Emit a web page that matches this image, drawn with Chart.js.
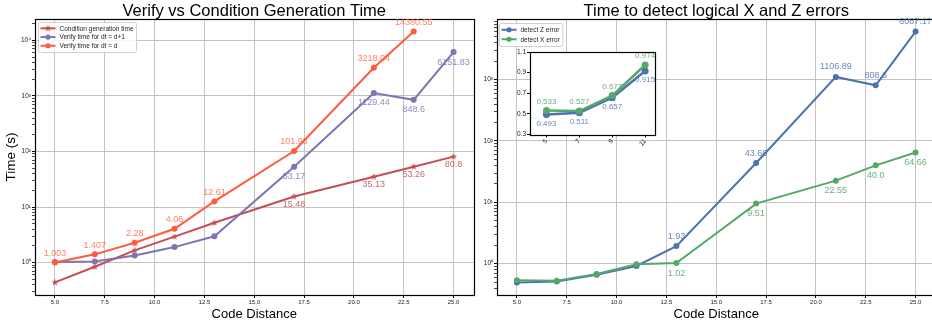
<!DOCTYPE html>
<html>
<head>
  <meta charset="utf-8" />
  <title>Verify vs Condition Generation Time</title>
  <script src="https://cdn.jsdelivr.net/npm/chart.js@4"></script>
  <style>
    html, body {
      margin: 0;
      padding: 0;
      width: 932px;
      height: 325px;
      overflow: hidden;
      background: #ffffff;
    }
    .box { position: absolute; }
    #left-box { left: 0; top: 0; width: 480px; height: 325px; }
    #right-box { left: 470px; top: 0; width: 480px; height: 325px; }
    #inset-box { left: 505px; top: 45px; width: 160px; height: 115px; }
  </style>
</head>
<body>
  <div class="box" id="left-box"><canvas id="left-chart"></canvas></div>
  <div class="box" id="right-box"><canvas id="right-chart"></canvas></div>
  <div class="box" id="inset-box"><canvas id="inset-chart"></canvas></div>
  <script>
    // ---- data ----
    const distances = [5, 7, 9, 11, 13, 17, 21, 23, 25];
    const conditionTime = [0.44, 0.84, 1.66, 2.93, 5.2, 15.48, 35.13, 53.26, 80.8];
    const verifyDtPlus1 = [1.02, 1.05, 1.34, 1.9, 2.97, 53.17, 1129.44, 848.6, 6151.83];
    const verifyDtD = [1.003, 1.407, 2.28, 4.06, 12.61, 101.98, 3218.04, 14380.55]; // no d=25 run
    const detectZ = [0.493, 0.511, 0.657, 0.915, 1.93, 43.66, 1106.89, 808.6, 6087.17];
    const detectX = [0.533, 0.527, 0.677, 0.974, 1.02, 9.51, 22.55, 40.0, 64.66];
    const insetDistances = [5, 7, 9, 11];

    const xTicks = [5, 7.5, 10, 12.5, 15, 17.5, 20, 22.5, 25];
    const insetYTicks = [0.3, 0.5, 0.7, 0.9, 1.1];
    const supDigits = ['⁰', '¹', '²', '³', '⁴', '⁵'];

    const FONT = '"Liberation Sans", Arial, sans-serif';
    const GRID = '#c4c4c4';

    function pts(xs, ys) {
      return ys.map((y, i) => ({ x: xs[i], y: y }));
    }
    function fmt(v) {
      return Number.isInteger(v) ? v.toFixed(1) : String(v);
    }
    function range(a, b) {
      const out = [];
      for (let i = a; i <= b; i++) out.push(i);
      return out;
    }

    // filled 5 point star, used as marker for condition generation time
    function starMarker(color, r) {
      const c = document.createElement('canvas');
      c.width = c.height = Math.ceil(r * 2 + 2);
      const g = c.getContext('2d');
      const cx = c.width / 2, cy = c.height / 2;
      g.beginPath();
      for (let i = 0; i < 10; i++) {
        const rad = i % 2 === 0 ? r : r * 0.42;
        const a = -Math.PI / 2 + i * Math.PI / 5;
        g.lineTo(cx + rad * Math.cos(a), cy + rad * Math.sin(a));
      }
      g.closePath();
      g.fillStyle = color;
      g.fill();
      return c;
    }

    // log minor ticks between decades (2..9 x 10^n)
    function logTicks(min, max) {
      const out = [];
      for (let e = Math.floor(Math.log10(min)); e <= Math.ceil(Math.log10(max)); e++) {
        for (let m = 1; m < 10; m++) {
          const v = m * Math.pow(10, e);
          if (v >= min && v <= max) out.push({ value: v, major: m === 1 });
        }
      }
      return out;
    }

    // value labels next to the points
    const pointLabels = {
      id: 'pointLabels',
      afterDatasetsDraw(chart) {
        const ctx = chart.ctx;
        chart.data.datasets.forEach((ds, i) => {
          if (!ds.labelIdx) return;
          const meta = chart.getDatasetMeta(i);
          ctx.save();
          ctx.font = (ds.labelSize || 9) + 'px ' + FONT;
          ctx.fillStyle = ds.labelColor;
          ctx.textAlign = 'center';
          ctx.textBaseline = 'middle';
          ds.labelIdx.forEach(j => {
            const p = meta.data[j];
            ctx.fillText(fmt(ds.data[j].y), p.x, p.y + ds.labelDy);
          });
          ctx.restore();
        });
      }
    };

    // black box round the plot area, plus the title
    const frame = {
      id: 'frame',
      beforeDraw(chart, args, opts) {
        if (!opts.fill) return;
        const a = chart.chartArea;
        chart.ctx.save();
        chart.ctx.fillStyle = '#ffffff';
        chart.ctx.fillRect(a.left, a.top, a.right - a.left, a.bottom - a.top);
        chart.ctx.restore();
      },
      afterDatasetsDraw(chart, args, opts) {
        const a = chart.chartArea;
        const ctx = chart.ctx;
        ctx.save();
        ctx.strokeStyle = '#000000';
        ctx.lineWidth = 1.2;
        ctx.strokeRect(Math.round(a.left) + 0.5, Math.round(a.top) + 0.5,
          Math.round(a.right - a.left), Math.round(a.bottom - a.top));
        if (opts.title) {
          ctx.fillStyle = '#000000';
          ctx.font = '16.5px ' + FONT;
          ctx.textAlign = 'center';
          ctx.textBaseline = 'alphabetic';
          ctx.fillText(opts.title, (a.left + a.right) / 2, 16);
        }
        ctx.restore();
      }
    };

    // legend box inside the plot area
    const boxLegend = {
      id: 'boxLegend',
      afterDraw(chart, args, opts) {
        if (!opts.show) return;
        const ctx = chart.ctx;
        const a = chart.chartArea;
        const items = chart.data.datasets.slice().sort((p, q) => p.legendPos - q.legendPos);
        ctx.save();
        ctx.font = opts.size + 'px ' + FONT;
        const tw = Math.max(...items.map(d => ctx.measureText(d.label).width));
        const x = a.left + opts.dx, y = a.top + opts.dy;
        const w = opts.padX * 2 + opts.sample + opts.gap + tw;
        const h = opts.padY * 2 + items.length * opts.rowH;
        ctx.fillStyle = 'rgba(255,255,255,0.85)';
        ctx.strokeStyle = '#cfcfcf';
        ctx.lineWidth = 1;
        ctx.beginPath();
        ctx.roundRect(x + 0.5, y + 0.5, w, h, 2);
        ctx.fill();
        ctx.stroke();
        items.forEach((d, i) => {
          const cy = y + opts.padY + opts.rowH * (i + 0.5);
          const sx = x + opts.padX;
          ctx.strokeStyle = d.borderColor;
          ctx.lineWidth = 2;
          ctx.beginPath();
          ctx.moveTo(sx, cy);
          ctx.lineTo(sx + opts.sample, cy);
          ctx.stroke();
          if (typeof d.pointStyle === 'object') {
            ctx.drawImage(d.pointStyle, sx + opts.sample / 2 - d.pointStyle.width / 2, cy - d.pointStyle.height / 2);
          } else {
            ctx.fillStyle = d.borderColor;
            ctx.beginPath();
            ctx.arc(sx + opts.sample / 2, cy, 2.6, 0, Math.PI * 2);
            ctx.fill();
          }
          ctx.fillStyle = '#222222';
          ctx.textAlign = 'left';
          ctx.textBaseline = 'middle';
          ctx.fillText(d.label, sx + opts.sample + opts.gap, cy + 0.5);
        });
        ctx.restore();
      }
    };

    function xAxis(min, max, ticks, height, title) {
      return {
        type: 'linear',
        min: min,
        max: max,
        bounds: 'data',
        afterBuildTicks: s => { s.ticks = ticks.map(v => ({ value: v })); },
        afterFit: s => { s.height = height; },
        ticks: {
          autoSkip: false,
          maxRotation: 0,
          padding: 1,
          color: '#222222',
          font: { family: FONT, size: 6 },
          callback: v => v.toFixed(1)
        },
        grid: { color: GRID, lineWidth: 1, tickLength: 3, tickColor: '#000000' },
        border: { display: false },
        title: {
          display: !!title,
          text: title,
          color: '#000000',
          font: { family: FONT, size: 13 },
          padding: { top: 0, bottom: 3 }
        }
      };
    }

    function logAxis(min, max, width, title) {
      return {
        type: 'logarithmic',
        min: min,
        max: max,
        bounds: 'data',
        afterBuildTicks: s => { s.ticks = logTicks(min, max); },
        afterFit: s => { s.width = width; },
        ticks: {
          autoSkip: false,
          padding: 1,
          color: '#222222',
          font: { family: FONT, size: 6.5 },
          callback: function (v, i, ts) {
            if (!ts[i].major) return '';
            return '10' + supDigits[Math.round(Math.log10(v))];
          }
        },
        grid: {
          color: c => (c.tick && c.tick.major ? GRID : 'rgba(0,0,0,0)'),
          tickColor: '#000000',
          tickLength: 3,
          tickWidth: c => (c.tick && c.tick.major ? 1 : 0.7)
        },
        border: { display: false },
        title: {
          display: !!title,
          text: title,
          color: '#000000',
          font: { family: FONT, size: 13.5 },
          padding: { top: 3, bottom: 0 }
        }
      };
    }

    const baseOptions = {
      responsive: true,
      maintainAspectRatio: false,
      animation: false,
      devicePixelRatio: 1,
      events: [],
      plugins: { legend: { display: false }, tooltip: { enabled: false } }
    };

    // ---- left: verify vs condition generation ----
    const red = '#c44e52', purple = '#8172b2', orange = '#ff5b3c';
    new Chart(document.getElementById('left-chart'), {
      type: 'line',
      data: {
        datasets: [
          {
            label: 'Verify time for dt = d',
            data: pts(distances, verifyDtD),
            borderColor: orange, backgroundColor: orange,
            borderWidth: 2, pointRadius: 3, pointBorderWidth: 0,
            order: 0, legendPos: 2,
            labelIdx: range(0, 7), labelDy: -9, labelColor: 'rgba(255,91,60,0.78)'
          },
          {
            label: 'Verify time for dt = d+1',
            data: pts(distances, verifyDtPlus1),
            borderColor: purple, backgroundColor: purple,
            borderWidth: 2, pointRadius: 3, pointBorderWidth: 0,
            order: 1, legendPos: 1,
            labelIdx: range(5, 8), labelDy: 10, labelColor: 'rgba(129,114,178,0.85)'
          },
          {
            label: 'Condition generation time',
            data: pts(distances, conditionTime),
            borderColor: red, backgroundColor: red,
            borderWidth: 2, pointStyle: starMarker(red, 3.6),
            order: 2, legendPos: 0,
            labelIdx: range(5, 8), labelDy: 8, labelColor: 'rgba(196,78,82,0.85)'
          }
        ]
      },
      options: Object.assign({}, baseOptions, {
        layout: { padding: { left: 0, right: 6.5, top: 19, bottom: 0 } },
        scales: {
          x: xAxis(4, 26, xTicks, 30, 'Code Distance'),
          y: logAxis(0.261, 24200, 35, 'Time (s)')
        },
        plugins: Object.assign({}, baseOptions.plugins, {
          frame: { title: 'Verify vs Condition Generation Time' },
          boxLegend: { show: true, size: 6.5, dx: 3, dy: 3, padX: 2.5, padY: 2, rowH: 8.7, sample: 15, gap: 4 }
        })
      }),
      plugins: [frame, pointLabels, boxLegend]
    });

    // ---- right: time to detect logical errors ----
    const blue = '#4c72b0', green = '#55a868';
    new Chart(document.getElementById('right-chart'), {
      type: 'line',
      data: {
        datasets: [
          {
            label: 'detect X error',
            data: pts(distances, detectX),
            borderColor: green, backgroundColor: green,
            borderWidth: 2, pointRadius: 3, pointBorderWidth: 0,
            order: 0, legendPos: 1,
            labelIdx: range(4, 8), labelDy: 10, labelColor: 'rgba(85,168,104,0.9)'
          },
          {
            label: 'detect Z error',
            data: pts(distances, detectZ),
            borderColor: blue, backgroundColor: blue,
            borderWidth: 2, pointRadius: 3, pointBorderWidth: 0,
            order: 1, legendPos: 0,
            labelIdx: range(4, 8), labelDy: -10, labelColor: 'rgba(76,114,176,0.85)'
          }
        ]
      },
      options: Object.assign({}, baseOptions, {
        layout: { padding: { left: 0, right: 14.5, top: 19, bottom: 0 } },
        scales: {
          x: xAxis(4, 26, xTicks, 30, 'Code Distance'),
          y: logAxis(0.3076, 9750, 27, '')
        },
        plugins: Object.assign({}, baseOptions.plugins, {
          frame: { title: 'Time to detect logical X and Z errors' },
          boxLegend: { show: true, size: 6.5, dx: 2, dy: 4, padX: 2.5, padY: 2, rowH: 9.5, sample: 15, gap: 4 }
        })
      }),
      plugins: [frame, pointLabels, boxLegend]
    });

    // ---- inset: small distances on a linear axis ----
    new Chart(document.getElementById('inset-chart'), {
      type: 'line',
      data: {
        datasets: [
          {
            label: 'detect X error',
            data: pts(insetDistances, detectX.slice(0, 4)),
            borderColor: green, backgroundColor: green,
            borderWidth: 2.5, pointRadius: 3.5, pointBorderWidth: 0,
            order: 0,
            labelIdx: range(0, 3), labelDy: -9, labelSize: 8, labelColor: 'rgba(85,168,104,0.9)'
          },
          {
            label: 'detect Z error',
            data: pts(insetDistances, detectZ.slice(0, 4)),
            borderColor: blue, backgroundColor: blue,
            borderWidth: 2.5, pointRadius: 3.5, pointBorderWidth: 0,
            order: 1,
            labelIdx: range(0, 3), labelDy: 9, labelSize: 8, labelColor: 'rgba(76,114,176,0.85)'
          }
        ]
      },
      options: Object.assign({}, baseOptions, {
        layout: { padding: { left: 0, right: 10, top: 7, bottom: 0 } },
        scales: {
          x: {
            type: 'linear', min: 4, max: 11.6, bounds: 'data',
            afterBuildTicks: s => { s.ticks = insetDistances.map(v => ({ value: v })); },
            afterFit: s => { s.height = 25.5; },
            ticks: {
              autoSkip: false, minRotation: 45, maxRotation: 45, padding: 0,
              color: '#222222', font: { family: FONT, size: 6.5 },
              callback: v => String(v)
            },
            grid: { drawOnChartArea: false, tickLength: 3, tickColor: '#000000' },
            border: { display: false }
          },
          y: {
            type: 'linear', min: 0.3, max: 1.1, bounds: 'data',
            afterBuildTicks: s => { s.ticks = insetYTicks.map(v => ({ value: v })); },
            afterFit: s => { s.width = 25; },
            ticks: {
              autoSkip: false, padding: 1,
              color: '#222222', font: { family: FONT, size: 6.5 },
              callback: v => v.toFixed(1)
            },
            grid: { drawOnChartArea: false, tickLength: 3, tickColor: '#000000' },
            border: { display: false }
          }
        },
        plugins: Object.assign({}, baseOptions.plugins, {
          frame: { fill: true },
          boxLegend: { show: false }
        })
      }),
      plugins: [frame, pointLabels, boxLegend]
    });
  </script>
</body>
</html>
